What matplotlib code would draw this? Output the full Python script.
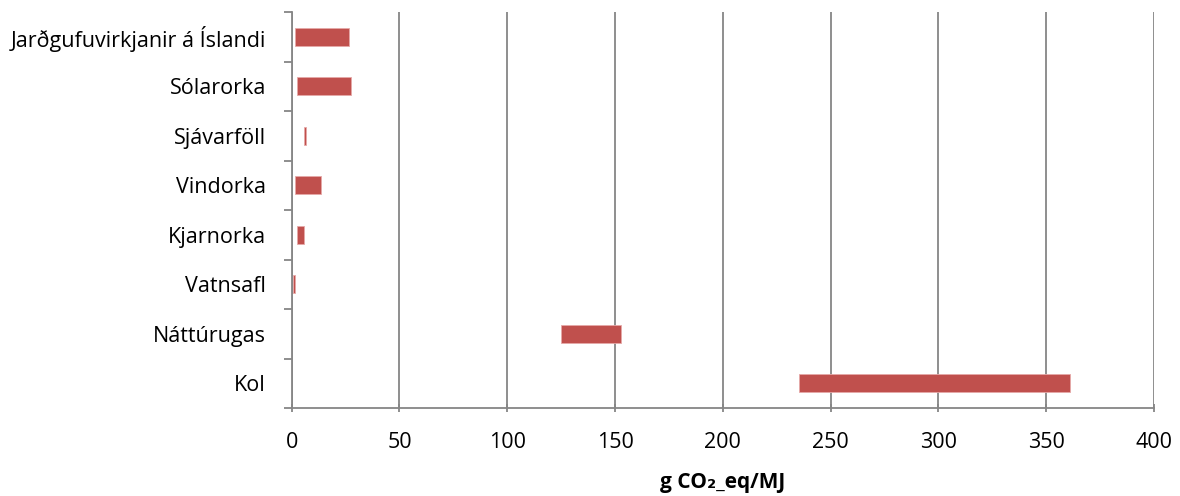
import matplotlib
matplotlib.use("Agg")
import matplotlib.pyplot as plt
import numpy as np

# Lifecycle emissions ranges per energy source (g CO2-eq / MJ)
categories = ["Jarðgufuvirkjanir á Íslandi", "Sólarorka", "Sjávarföll", "Vindorka",
              "Kjarnorka", "Vatnsafl", "Náttúrugas", "Kol"]
low_values = [1.5, 2.3, 5.7, 1.5, 2.3, 0.6, 125.0, 235.4]
high_values = [26.7, 27.5, 6.6, 13.6, 5.7, 1.5, 152.7, 360.9]
x_ticks = [0, 50, 100, 150, 200, 250, 300, 350, 400]

plt.rcParams['font.family'] = ['Open Sans', 'DejaVu Sans']

fig = plt.figure(figsize=(11.8, 4.96), dpi=100)
ax = fig.add_axes([291.7 / 1180, 1 - 408 / 496, (1154 - 291.7) / 1180, (408 - 12) / 496])

n = len(categories)
ypos = np.arange(n)
widths = np.array(high_values) - np.array(low_values)
ax.barh(ypos, widths, left=low_values, height=0.36, color="#C0504D",
        edgecolor="#E6A9A8", linewidth=0.6, zorder=3)

ax.set_ylim(n - 0.5, -0.5)
ax.set_xlim(0, 400)
ax.set_xticks(x_ticks)
ax.set_xticklabels([str(t) for t in x_ticks], fontsize=15.5)

# category labels sit between boundary tick marks
ax.set_yticks(np.arange(n + 1) - 0.5)
ax.set_yticklabels([])
ax.set_yticks(ypos, minor=True)
ax.set_yticklabels(categories, minor=True, fontsize=15.5)
ax.tick_params(axis='y', which='minor', length=0, pad=18.5)
ax.tick_params(axis='y', which='major', length=6, width=1.3, color="#868686", direction='out')
ax.tick_params(axis='x', length=6, width=1.3, color="#868686", direction='inout', pad=14)

ax.grid(axis='x', color="#868686", linewidth=1.3, zorder=0)
for side in ("top", "right"):
    ax.spines[side].set_visible(False)
for side in ("left", "bottom"):
    ax.spines[side].set_color("#868686")
    ax.spines[side].set_linewidth(1.3)
ax.spines["bottom"].set_zorder(4)

ax.set_xlabel("g CO₂_eq/MJ", fontsize=15, fontweight='bold', labelpad=14)

fig.savefig("out.png", dpi=100)
